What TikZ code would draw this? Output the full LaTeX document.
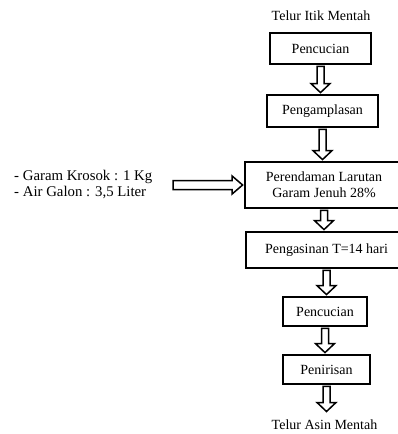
\documentclass[tikz,border=0pt]{standalone}
\usepackage{fontspec}
\setmainfont{Liberation Serif}
\usepackage{tikz}
\usetikzlibrary{calc,positioning}
\tikzset
{
	prosesnode/.style = {rectangle, draw=black, line width=1.8pt, align=center, inner sep=2pt, font=\fontsize{14}{16}\selectfont},
	labelnode/.style  = {align=center, inner sep=0pt, font=\fontsize{14}{16}\selectfont},
	blokpanah/.style  = {draw=black, line width=1.5pt, fill=white, line join=miter}
}
% panah blok ke bawah, dari node #1 ke node #2
\newcommand{\panahturun}[2]{
	\draw[blokpanah] let \p1=(#1), \p2=(#2) in
		(\x1-3.5pt,\y1-1.5pt) -- (\x1-3.5pt,\y2+10.5pt) -- (\x1-9.5pt,\y2+10.5pt) -- (\x1,\y2+1.5pt)
		-- (\x1+9.5pt,\y2+10.5pt) -- (\x1+3.5pt,\y2+10.5pt) -- (\x1+3.5pt,\y1-1.5pt) -- cycle;
}
% panah blok ke kanan
\newcommand{\panahkanan}[2]{
	\draw[blokpanah] let \p1=(#1), \p2=(#2) in
		(\x1,\y1+4.5pt) -- (\x2-12pt,\y1+4.5pt) -- (\x2-12pt,\y1+9pt) -- (\x2-1.5pt,\y1)
		-- (\x2-12pt,\y1-9pt) -- (\x2-12pt,\y1-4.5pt) -- (\x1,\y1-4.5pt) -- cycle;
}

\begin{document}
\begin{tikzpicture}[x=1pt, y=-1pt]
\useasboundingbox (0,0) rectangle (398,434);
\node[labelnode] (mulai) at (321,16) {Telur Itik Mentah};
\node[prosesnode, minimum width=101pt, minimum height=31pt] (cuci1) at (320.5,48.5) {Pencucian};
\node[prosesnode, minimum width=111pt, minimum height=32pt] (ampelas) at (322.5,111) {Pengamplasan};
\node[prosesnode, minimum width=158pt, minimum height=46pt] (rendam) at (324,185) {Perendaman Larutan\\Garam Jenuh 28\%};
\node[prosesnode, minimum width=161pt, minimum height=36pt] (asin) at (326.5,250) {Pengasinan T=14 hari};
\node[prosesnode, minimum width=84pt, minimum height=29pt] (cuci2) at (325,311.5) {Pencucian};
\node[prosesnode, minimum width=87pt, minimum height=29pt] (tiris) at (326.5,369.5) {Penirisan};
\node[labelnode] (akhir) at (324.5,425) {Telur Asin Mentah};
\node[labelnode, align=left, anchor=west, font=\fontsize{14.8}{16}\selectfont] (bahan) at (14,185) {- Garam Krosok : 1 Kg\\- Air Galon : 3,5 Liter};
\coordinate (masuk) at (173,185);
\coordinate (ujung) at (326.5,413);

\panahturun{cuci1.south}{ampelas.north}
\panahturun{ampelas.south}{rendam.north}
\panahturun{rendam.south}{asin.north}
\panahturun{asin.south}{cuci2.north}
\panahturun{cuci2.south}{tiris.north}
\panahturun{tiris.south}{ujung}
\panahkanan{masuk}{rendam.west}
\end{tikzpicture}
\end{document}
